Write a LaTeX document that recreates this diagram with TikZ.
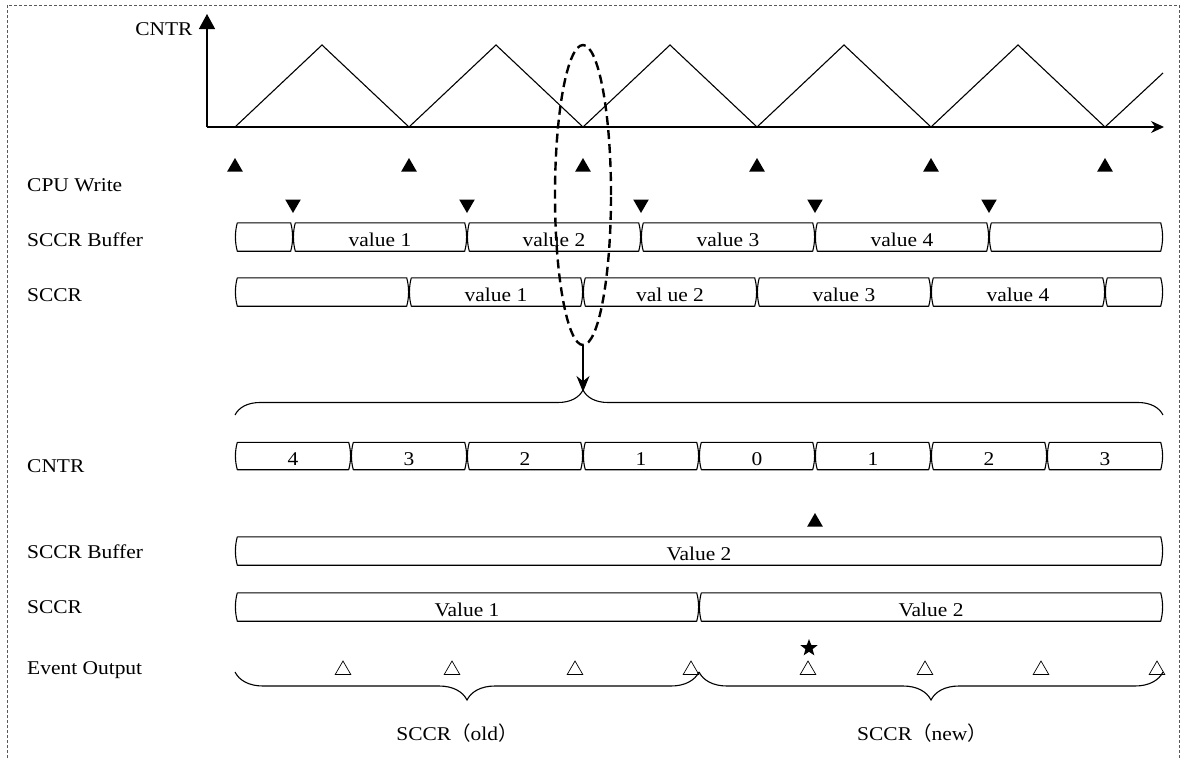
\documentclass[tikz,border=0pt]{standalone}
\usepackage{fontspec}
\setmainfont{Liberation Serif}[FakeStretch=1.1]
\newfontfamily\cjk{Noto Sans CJK SC}
\usepackage{tikz}
\usetikzlibrary{arrows.meta,shapes.geometric,decorations.pathreplacing}

% outline of one bus segment, drawn round a named node
\newcommand{\segline}[1]{%
  \draw[busline] (#1.north west) -- (#1.north east)
    .. controls +(2.5,9) and +(2.5,-9) .. (#1.south east) -- (#1.south west)
    .. controls +(-2.5,-9) and +(-2.5,9) .. (#1.north west);}

\begin{document}
\begin{tikzpicture}[x=1pt, y=-1pt, font=\fontsize{19.5pt}{22pt}\selectfont,
    seg/.style={minimum height=28pt, inner sep=0pt, text height=21pt, text depth=2pt},
    busline/.style={line width=1.1pt, line join=round},
    rowlbl/.style={anchor=west, inner sep=0pt},
    wtri/.style={regular polygon, regular polygon sides=3, fill, inner sep=0pt, minimum size=18pt},
    dtri/.style={wtri, shape border rotate=180},
    etri/.style={regular polygon, regular polygon sides=3, draw, line width=0.7pt, inner sep=0pt, minimum size=18pt},
    brc/.style={decorate, line width=1.1pt},
    axis/.style={line width=1.3pt}]

    \useasboundingbox (0,0) rectangle (1181,758);
    \draw[gray!70!black, line width=0.9pt, dash pattern=on 3pt off 2pt]
        (7,758) -- (7,5) -- (1179,5) -- (1179,758);

    % counter waveform
    \coordinate (o) at (207,127);
    \coordinate (ytip) at (207,14);
    \coordinate (xtip) at (1164,127);
    \draw[axis, -{Triangle[length=15pt,width=16pt]}] (o) -- (ytip);
    \draw[axis, -{Stealth[length=13pt,width=12pt]}] (o) -- (xtip);
    \node[anchor=east] (cntrtop) at (196,29) {CNTR};
    \draw[line width=1.1pt] (235,127) \foreach \k in {1,...,5} {-- ++(87,-82) -- ++(87,82)} -- ++(58,-54);

    % row labels
    \node[rowlbl] (lcpu) at (27,185) {CPU Write};
    \node[rowlbl] (lbuf) at (27,240) {SCCR Buffer};
    \node[rowlbl] (lsccr) at (27,295) {SCCR};
    \node[rowlbl] (lcnt) at (27,466) {CNTR};
    \node[rowlbl] (lbuf2) at (27,552) {SCCR Buffer};
    \node[rowlbl] (lsccr2) at (27,607) {SCCR};
    \node[rowlbl] (levt) at (27,670) {Event Output};

    % write and load marks
    \foreach \x [count=\i] in {235,409,583,757,931,1105}
        \node[wtri] (w\i) at (\x,167) {};
    \foreach \x [count=\i] in {293,467,641,815,989}
        \node[dtri] (ld\i) at (\x,204) {};

    % buffer and register rows
    \foreach \a/\b/\t [count=\i] in {235/293/{},293/467/value 1,467/641/value 2,
                                     641/815/value 3,815/989/value 4,989/1163/{}} {
        \node[seg, minimum width={\b-\a-5}] (sb\i) at ({(\a+\b)/2},237) {\t};
        \segline{sb\i}
    }
    \foreach \a/\b/\t [count=\i] in {235/409/{},409/583/value 1,583/757/val ue 2,
                                     757/931/value 3,931/1105/value 4,1105/1163/{}} {
        \node[seg, minimum width={\b-\a-5}] (sr\i) at ({(\a+\b)/2},292) {\t};
        \segline{sr\i}
    }

    % zoom of one period
    \node[draw, ellipse, line width=2.4pt, dash pattern=on 9pt off 5pt,
          minimum width=56pt, minimum height=300pt, inner sep=0pt] (zoom) at (583,195) {};
    \coordinate (tip) at (583,392);
    \draw[line width=1.2pt, -{Stealth[length=16pt,width=13pt]}] (zoom.south) -- (tip);
    \coordinate (tl) at (235,415);
    \coordinate (tr) at (1163,415);
    \draw[brc, decoration={brace, amplitude=25pt, aspect=0.375}] (tl) -- (tr);

    % counter values
    \foreach \v [count=\i] in {4,3,2,1,0,1,2,3} {
        \node[seg, minimum height=27pt, minimum width=111pt] (c\i) at ({177+116*\i},456) {\v};
        \segline{c\i}
    }

    \node[wtri] (upd) at (815,522) {};

    \node[seg, minimum width=923pt] (bv) at (699,551) {Value 2};
    \segline{bv}
    \node[seg, minimum width=459pt] (rv1) at (467,607) {Value 1};
    \segline{rv1}
    \node[seg, minimum width=459pt] (rv2) at (931,607) {Value 2};
    \segline{rv2}

    % event outputs
    \foreach \x [count=\i] in {343,452,575,691,808,925,1041,1157}
        \node[etri] (ev\i) at (\x,670) {};
    \node[star, star points=5, star point ratio=2.4, fill, inner sep=0pt,
          minimum size=18pt] (first) at (809,648) {};

    \coordinate (ol) at (235,672);
    \coordinate (om) at (699,672);
    \coordinate (nr) at (1163,672);
    \draw[brc, decoration={brace, amplitude=28pt}] (om) -- (ol);
    \draw[brc, decoration={brace, amplitude=28pt}] (nr) -- (om);
    \node (old) at (457,733) {SCCR{\cjk （}old{\cjk ）}};
    \node (new) at (922,733) {SCCR{\cjk （}new{\cjk ）}};
\end{tikzpicture}
\end{document}
